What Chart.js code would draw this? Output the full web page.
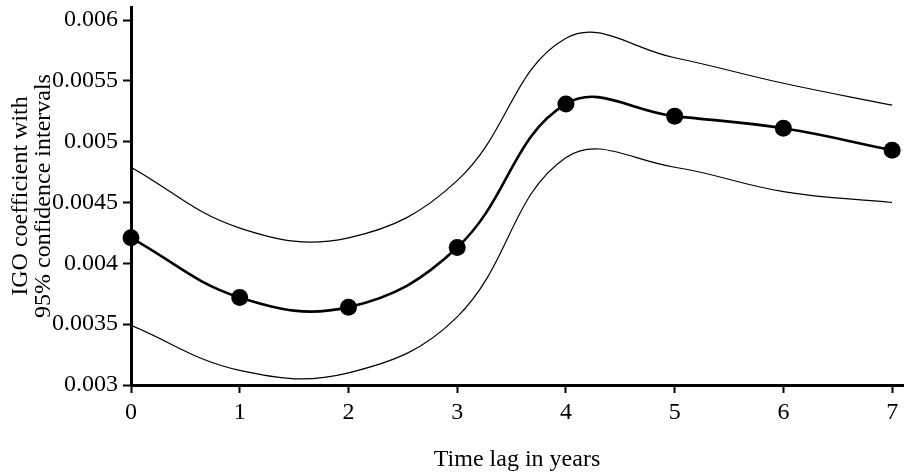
<!DOCTYPE html>
<html>
<head>
<meta charset="utf-8">
<script src="https://cdn.jsdelivr.net/npm/chart.js@4/dist/chart.umd.min.js"></script>
<style>
  html, body { margin: 0; padding: 0; background: #fff; }
  #wrap { width: 905px; height: 474px; }
</style>
</head>
<body>
<div id="wrap"><canvas id="lagChart" width="905" height="474"></canvas></div>
<script>
// values
const lagYears = [0, 1, 2, 3, 4, 5, 6, 7];
const coefValues = [0.00421, 0.00372, 0.00364, 0.00413, 0.00531, 0.00521, 0.00511, 0.00493];
const upperValues = [0.00479, 0.00429, 0.00421, 0.00468, 0.00585, 0.00569, 0.00548, 0.0053];
const lowerValues = [0.00349, 0.00312, 0.00310, 0.00356, 0.00487, 0.00479, 0.00459, 0.0045];
const xTicks = [0, 1, 2, 3, 4, 5, 6, 7];
const yTicks = [0.003, 0.0035, 0.004, 0.0045, 0.005, 0.0055, 0.006];
const yTickLabels = ['0.003', '0.0035', '0.004', '0.0045', '0.005', '0.0055', '0.006'];

const FONT = '"Liberation Serif", "DejaVu Serif", serif';

function toPoints(vals) {
    return lagYears.map((x, i) => ({ x: x, y: vals[i] }));
}

// y axis title, two lines
const yTitlePlugin = {
    id: 'yTitle',
    afterDraw(chart) {
        const ctx = chart.ctx;
        const area = chart.chartArea;
        ctx.save();
        ctx.fillStyle = '#000';
        ctx.font = '24px ' + FONT;
        ctx.textAlign = 'center';
        ctx.textBaseline = 'alphabetic';
        ctx.translate(0, (area.top + area.bottom) / 2);
        ctx.rotate(-Math.PI / 2);
        ctx.fillText('IGO coefficient with', 0, 27);
        ctx.fillText('95% confidence intervals', 0, 50);
        ctx.restore();
    }
};

new Chart(document.getElementById('lagChart'), {
    type: 'line',
    data: {
        datasets: [
            {
                label: 'upper',
                data: toPoints(upperValues),
                borderColor: '#000',
                borderWidth: 1.2,
                pointRadius: 0,
                tension: 0.4,
                fill: false
            },
            {
                label: 'lower',
                data: toPoints(lowerValues),
                borderColor: '#000',
                borderWidth: 1.2,
                pointRadius: 0,
                tension: 0.4,
                fill: false
            },
            {
                label: 'IGO coefficient',
                data: toPoints(coefValues),
                borderColor: '#000',
                borderWidth: 2.6,
                pointRadius: 8.5,
                pointBackgroundColor: '#000',
                pointBorderColor: '#000',
                pointBorderWidth: 0,
                tension: 0.4,
                fill: false,
                clip: false
            }
        ]
    },
    options: {
        responsive: false,
        animation: false,
        devicePixelRatio: 1,
        layout: { autoPadding: false, padding: { top: 7, right: 2, left: 0, bottom: 0 } },
        plugins: {
            legend: { display: false },
            tooltip: { enabled: false }
        },
        scales: {
            x: {
                type: 'linear',
                min: 0,
                max: 7.1,
                afterBuildTicks: function(scale) {
                    scale.ticks = xTicks.map(v => ({ value: v }));
                },
                afterFit: function(scale) {
                    scale.height = 89;
                    scale.paddingLeft = 0;
                    scale.paddingRight = 0;
                },
                ticks: {
                    color: '#000',
                    font: { family: FONT, size: 24 },
                    padding: 5,
                    maxRotation: 0,
                    callback: v => String(v)
                },
                grid: {
                    drawOnChartArea: false,
                    drawTicks: true,
                    tickLength: 8,
                    tickWidth: 2,
                    tickColor: '#000'
                },
                border: { color: '#000', width: 3 },
                title: {
                    display: true,
                    text: 'Time lag in years',
                    color: '#000',
                    font: { family: FONT, size: 24 },
                    padding: { top: 16, bottom: 0 }
                }
            },
            y: {
                type: 'linear',
                min: 0.003,
                max: 0.006107,
                afterBuildTicks: function(scale) {
                    scale.ticks = yTicks.map(v => ({ value: v }));
                },
                afterFit: function(scale) {
                    scale.width = 131;
                    scale.paddingTop = 0;
                    scale.paddingBottom = 0;
                },
                ticks: {
                    color: '#000',
                    font: { family: FONT, size: 24 },
                    padding: 5,
                    callback: function(v) {
                        const i = yTicks.findIndex(t => Math.abs(t - v) < 1e-9);
                        return i >= 0 ? yTickLabels[i] : '';
                    }
                },
                grid: {
                    drawOnChartArea: false,
                    drawTicks: true,
                    tickLength: 8,
                    tickWidth: 2,
                    tickColor: '#000'
                },
                border: { color: '#000', width: 3 }
            }
        }
    },
    plugins: [yTitlePlugin]
});
</script>
</body>
</html>
